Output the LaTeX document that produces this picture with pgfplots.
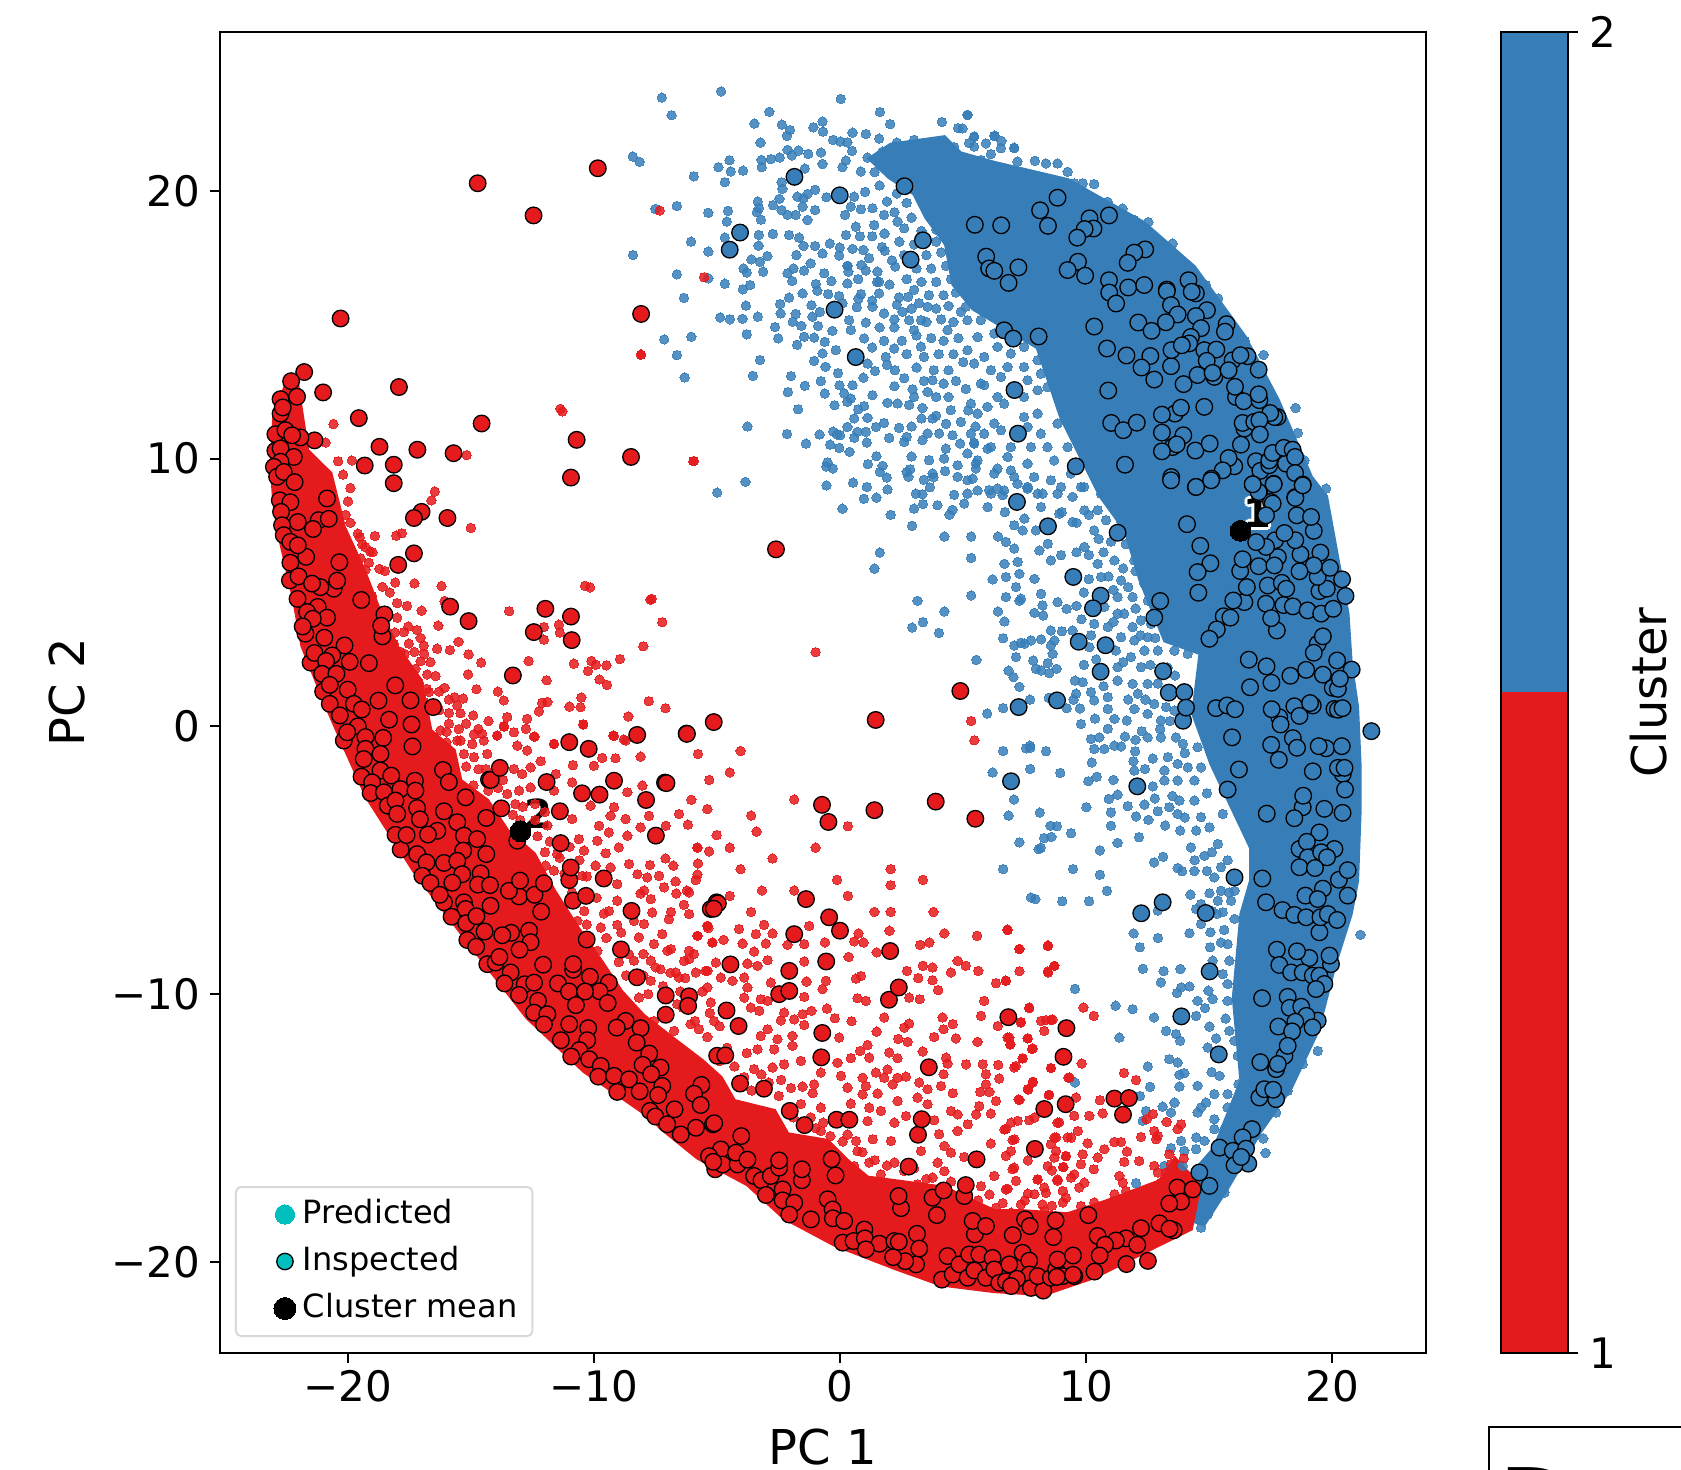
\documentclass[border=0pt]{standalone}
\usepackage{pgfplots}
\pgfplotsset{compat=1.18}
\usepackage{fontspec}
\setmainfont{DejaVu Sans}
\definecolor{cblue}{HTML}{377EB8}
\definecolor{cred}{HTML}{E41A1C}
\definecolor{ccyan}{rgb}{0,0.75,0.75}
\pgfplotsset{
  pred/.style={forget plot,only marks,mark=*,mark size=2.35pt,mark options={draw=#1,line width=0pt,fill=#1,opacity=0.85}},
  insp/.style={forget plot,only marks,mark=*,mark size=4.15pt,mark options={draw=black,line width=0.65pt,fill=#1}},
  lg/.style={only marks,mark=*,legend image code/.code={\path (0pt,0pt) (25pt,0pt);\draw[##1] plot coordinates {(16.5pt,0pt)};}}
}
\newcommand{\clabel}[3]{%
  \node[white,font=\fontsize{20}{20}\selectfont\bfseries,xshift=1.4pt] at (axis cs:#1,#2) {#3};
  \node[white,font=\fontsize{20}{20}\selectfont\bfseries,xshift=-1.4pt] at (axis cs:#1,#2) {#3};
  \node[white,font=\fontsize{20}{20}\selectfont\bfseries,yshift=1.4pt] at (axis cs:#1,#2) {#3};
  \node[white,font=\fontsize{20}{20}\selectfont\bfseries,yshift=-1.4pt] at (axis cs:#1,#2) {#3};
  \node[white,font=\fontsize{20}{20}\selectfont\bfseries,xshift=1pt,yshift=1pt] at (axis cs:#1,#2) {#3};
  \node[white,font=\fontsize{20}{20}\selectfont\bfseries,xshift=-1pt,yshift=1pt] at (axis cs:#1,#2) {#3};
  \node[white,font=\fontsize{20}{20}\selectfont\bfseries,xshift=1pt,yshift=-1pt] at (axis cs:#1,#2) {#3};
  \node[white,font=\fontsize{20}{20}\selectfont\bfseries,xshift=-1pt,yshift=-1pt] at (axis cs:#1,#2) {#3};
  \node[black,font=\fontsize{20}{20}\selectfont\bfseries] at (axis cs:#1,#2) {#3};
}
\begin{document}
\begin{tikzpicture}
\path[use as bounding box] (0pt,0pt) rectangle (840.5pt,735pt);
\begin{axis}[
  at={(110pt,58.5pt)},anchor=south west,scale only axis,width=603pt,height=660.5pt,
  xmin=-25.2,xmax=23.8,ymin=-23.4,ymax=25.93,
  xtick={-20,-10,0,10,20},xticklabels={−20,−10,0,10,20},
  ytick={-20,-10,0,10,20},yticklabels={−20,−10,0,10,20},
  tick pos=lower,tick align=outside,major tick length=5pt,
  tick style={black,line width=1pt},axis line style={line width=1pt},
  ticklabel style={font=\fontsize{21}{21}\selectfont},
  yticklabel style={xshift=-1.5pt},
  xlabel={PC 1},ylabel={PC 2},
  xlabel style={font=\fontsize{24}{24}\selectfont,at={(axis description cs:0.5,-0.0712)},anchor=center},
  ylabel style={font=\fontsize{24}{24}\selectfont,at={(axis description cs:-0.1265,0.5)},anchor=center},
  legend style={at={(axis description cs:0.0124,0.0121)},anchor=south west,
    draw=black!15,line width=1pt,rounded corners=2.5pt,inner xsep=7.5pt,inner ysep=6pt,
    font=\fontsize{16}{16}\selectfont,row sep=8pt,
    nodes={inner sep=0pt,text height=12pt,text depth=3.5pt},
    /tikz/every even column/.append style={column sep=21.5pt}},
  legend cell align=left,
]
% dense core, cluster 2
\addplot[forget plot,fill=cblue,draw=cblue,line width=2pt] coordinates {
(2.05,21.72)(4.23,22.0)(4.88,21.40)(6.27,21.04)(9.24,20.40)(12.33,18.80)(14.38,17.15)(16.43,14.55)(17.78,12.18)(19.13,9.30)(19.74,8.58)(20.61,4.21)(20.74,2.36)(21.0,0.72)(21.1,-1.40)(21.1,-3.25)(21.0,-5.77)(20.74,-7.01)(20.09,-8.90)(19.39,-11.38)(18.30,-13.51)(17.08,-15.11)(15.73,-17.23)(14.77,-18.60)(14.03,-18.36)(14.03,-16.95)(14.64,-16.35)(15.21,-15.75)(16.30,-13.23)(15.99,-10.14)(16.30,-7.01)(16.69,-5.77)(16.69,-4.53)(15.08,-1.40)(14.34,0.48)(14.64,2.73)(13.2,3.2)(12.2,5.45)(11.6,7.3)(10.59,8.58)(8.98,11.54)(8.02,14.15)(5.4,15.6)(4.6,16.5)(4.3,18.0)(3.5,19.0)(3.0,19.9)(2.0,20.5)(1.2,21.2)
} -- cycle;
% predicted, cluster 2
\addplot[pred=cblue] coordinates {
(-7.25,23.48)(-4.84,23.71)(0.02,23.43)(-6.85,22.82)(-2.88,22.95)(1.61,22.94)(5.17,22.84)(-3.49,22.51)(-2.37,22.47)(2.03,22.49)(4.13,22.57)(4.79,22.34)(-2.04,22.27)(-1.09,22.37)(-0.72,22.59)(-0.70,22.21)(0.50,22.17)(1.04,22.12)(-2.17,22.05)(-3.24,21.80)(-0.29,21.90)(0,21.84)(0.29,21.81)(1.58,21.95)(2.30,21.80)(3.0,21.90)(4.13,21.80)(5.44,22.03)(6.28,22.06)(7.07,21.61)(5.24,21.78)(4.63,21.63)(-8.43,21.28)(-8.15,21.08)(-2.14,21.53)(-1.70,21.50)(-1.30,21.38)(-0.78,21.43)(0.48,21.49)(1.11,21.24)(1.72,21.46)(-4.50,21.14)(-3.20,21.15)(-2.82,21.18)(-2.46,21.24)(-1.97,21.32)(-0.72,21.0)(0.23,21.13)(-4.95,20.88)(-4.45,20.72)(-3.95,20.75)(-3.19,20.88)(-1.44,20.83)(0.09,20.88)(0.84,20.72)(-5.95,20.54)(-4.69,20.32)(-2.38,20.32)(-2.35,20.07)(-1.02,20.04)(-1.33,19.88)(-1.74,19.78)(-1.49,19.72)(-2.47,19.70)(-0.56,19.76)(0.57,19.78)(1.01,19.96)(-2.73,19.46)(-3.35,19.60)(-3.30,19.35)(-3.39,19.20)(-2.38,19.28)(-2.14,19.10)(-1.81,19.10)(-1.53,19.41)(-1.02,19.28)(0.43,19.41)(0.84,19.31)(1.31,19.35)(-6.64,19.43)(-5.36,19.18)(-4.56,19.25)(-3.22,18.92)(-4.61,18.85)(-1.33,18.91)(1.38,18.72)(0.63,18.66)(0.23,18.35)(2.33,18.85)(1.78,19.10)(-2.74,18.39)(-3.31,18.35)(-2.08,18.35)(-1.67,18.25)(-4.69,18.25)(-6.06,18.10)(-5.36,17.73)(-3.32,17.95)(-1.49,17.94)(-1.02,17.94)(-0.42,18.03)(-0.02,17.88)(0.50,17.83)(0.94,17.79)(1.81,17.76)(-8.42,17.60)(-0.72,17.66)(-2.96,17.56)(-3.61,17.44)(-3.26,17.35)(-1.78,17.60)(-0.04,17.58)(1.17,17.48)(-1.20,17.29)(0.29,17.20)(0.86,17.23)(2.23,17.17)(-6.64,16.88)(-3.93,17.10)(-3.80,16.95)(-3.13,16.98)(-2.14,16.92)(-1.90,17.10)(-1.47,17.02)(-0.65,16.92)(0.33,16.98)(1.04,17.02)(1.51,16.98)(-4.69,16.53)(-3.96,16.32)(-3.66,16.48)(-1.95,16.63)(-0.99,16.52)(-0.36,16.63)(0.29,16.54)(0.73,16.70)(1.58,16.60)(-0.93,16.27)(-1.53,16.17)(-0.49,16.14)(1.58,16.17)(2.39,16.02)(2.76,16.04)(-6.35,16.0)(-2.08,16.01)(-0.04,16.07)(0.84,16.14)(0.74,15.98)(-3.83,15.71)(-2.44,15.77)(-1.17,15.73)(0.09,15.80)(1.31,15.67)(0.67,15.65)(3.55,15.67)(-4.88,15.27)(-4.48,15.20)(-3.97,15.22)(-3.35,15.30)(-2.42,15.42)(-1.81,15.40)(-1.13,15.30)(-0.83,15.48)(0.36,15.17)(1.78,15.42)(2.53,15.48)(3.28,15.17)(4.90,15.48)(-1.93,15.11)(-1.58,14.96)(-0.90,14.95)(-0.32,14.77)(1.04,15.08)(2.80,15.17)(-2.65,14.91)(-3.80,14.64)(-6.05,14.55)(-7.15,14.45)(-2.52,14.49)(-1.47,14.55)(-1.06,14.52)(-0.63,14.36)(0.43,14.80)(0.97,14.49)(1.78,14.40)(3.0,14.80)(4.36,14.80)(-6.64,13.86)(-1.75,14.25)(-0.18,14.05)(-0.72,13.93)(-3.26,13.68)(-1.06,13.65)(-0.60,13.43)(1.11,13.55)(1.85,13.80)(2.19,14.11)(3.28,14.18)(-6.32,13.03)(-3.55,13.09)(-2.0,13.08)(-0.09,13.19)(1.41,13.27)(2.22,13.30)(-0.79,12.89)(-0.03,12.74)(0.50,12.74)(0.94,13.02)(2.94,12.59)(3.75,12.93)(-1.44,12.72)(-2.13,12.48)(-0.63,12.43)(0.16,12.43)(0.43,12.24)(1.31,12.37)(3.55,12.49)(-0.23,11.99)(0.29,12.12)(1.92,12.08)(2.33,12.06)(0.97,11.96)(-1.71,11.84)(0.73,11.84)(3.34,11.89)(4.49,11.81)(4.90,11.37)(1.11,11.52)(0.57,11.50)(3.75,11.50)(1.78,11.33)(-3.77,11.20)(0.29,11.18)(1.45,11.18)(2.39,11.15)(-2.16,10.92)(-0.84,10.90)(-0.29,11.01)(0.70,11.0)(1.04,11.0)(3.55,10.94)(4.02,10.94)(1.99,10.77)(2.70,10.81)(0.57,10.78)(-1.39,10.56)(-0.41,10.52)(0,10.87)(1.08,10.60)(2.60,10.62)(3.34,10.69)(4.56,10.87)(5.44,10.59)(4.87,10.56)(-0.04,10.40)(0.38,10.25)(4.29,10.37)(1.47,10.09)(2.90,10.08)(5.17,10.19)(3.61,9.94)(4.22,10.0)(4.77,9.75)(5.58,9.94)(-0.52,9.86)(-0.30,9.63)(1.12,9.79)(1.72,9.73)(2.84,9.60)(3.75,9.44)(4.26,9.53)(5.51,9.63)(6.39,9.63)(-3.85,9.13)(2.77,9.32)(3.40,9.21)(1.89,9.29)(4.77,9.32)(5.38,9.25)(-5.0,8.73)(-0.56,9.0)(1.08,8.94)(1.92,8.85)(3.64,8.93)(3.07,8.69)(3.34,8.67)(4.63,8.65)(5.17,8.69)(6.05,8.82)(6.39,8.88)(1.47,8.54)(5.04,8.32)(3.95,8.26)(3.0,8.13)(0.09,8.13)(4.56,8.09)(5.99,8.19)(7.61,8.88)(7.07,9.32)(6.80,10.06)(5.99,10.37)(-7.51,19.32)(-5.36,16.73)
(5.17,16.79)(5.04,16.41)(5.44,16.29)(5.10,15.67)(5.58,15.92)(5.98,15.67)(5.17,15.17)(5.71,15.17)(6.26,15.42)(6.66,15.67)(7.07,16.04)(7.61,16.41)(7.47,15.42)(7.75,14.92)(6.26,14.67)(5.58,14.54)(5.17,14.05)(5.85,13.80)(6.39,14.17)(6.93,13.92)(7.47,14.17)(5.44,13.55)(6.12,13.30)(6.80,13.42)(7.47,13.42)(8.02,13.67)(5.85,12.74)(6.53,13.05)(7.61,12.93)(8.15,13.17)(8.42,12.67)(5.71,12.80)(7.47,12.30)(8.02,12.55)(6.39,12.30)(5.31,12.05)(5.98,11.93)(6.66,12.05)(5.58,11.68)(6.26,11.31)(7.47,11.55)(8.02,11.68)(5.31,10.93)(5.85,10.93)(6.53,11.06)(7.61,11.18)(8.15,10.93)(8.83,11.31)(9.64,10.93)(5.44,10.56)(6.12,10.43)(6.93,10.43)(7.75,10.43)(8.42,10.43)(9.24,10.43)(10.32,10.93)(5.51,9.81)(6.26,9.44)(6.93,9.56)(7.61,9.81)(8.69,9.93)(10.05,10.18)(10.59,10.43)(5.17,9.19)(5.58,8.81)(6.12,8.69)(6.66,8.81)(7.20,9.06)(7.88,9.31)(8.56,9.19)(8.97,8.94)(8.02,8.69)(10.59,9.31)(10.73,9.69)(9.91,8.94)(11.0,8.81)(9.37,9.44)
(5.17,22.83)(5.44,22.02)(6.26,22.05)(6.55,21.86)(5.92,21.77)(5.44,21.65)(7.07,21.59)(6.53,21.59)(7.91,21.12)(8.36,21.02)(8.83,21.02)(9.24,20.71)(6.12,21.37)(5.71,21.15)(7.20,21.09)(10.32,20.25)(9.85,20.28)(9.51,20.28)(11.47,19.34)(12.52,18.83)(13.50,18.03)(14.86,16.48)(15.36,15.98)(16.44,14.40)(17.20,13.87)(18.50,11.89)(18.59,10.96)(19.74,8.88)(18.86,9.93)(17.70,12.05)(11.95,18.91)(10.86,19.59)(6.93,20.65)(4.97,22.33)
(6.69,8.0)(6.6,8.63)(7.61,8.94)(8.22,8.69)(8.16,8.19)(8.90,7.94)(9.44,7.63)(7.48,7.76)(7.07,7.51)(7.41,7.32)(6.73,6.89)(7.07,6.64)(7.95,7.32)(8.43,6.82)(8.09,6.57)(8.97,6.39)(7.21,6.14)(6.67,6.07)(8.56,6.20)(6.73,5.58)(7.28,5.70)(7.89,5.51)(7.14,5.20)(6.73,4.83)(7.34,4.77)(8.16,4.95)(7.89,4.24)(8.25,4.14)(8.22,4.52)(8.83,4.64)(9.2,4.39)(6.67,3.92)(8.56,3.58)(9.01,3.55)(9.44,3.58)(8.16,3.25)(7.34,3.12)(7.07,3.02)(7.75,3.21)(8.70,3.21)(8.56,3.02)(8.63,2.71)(7.14,2.59)(7.84,2.46)(8.43,2.36)(7.95,2.15)(8.16,2.09)(8.49,1.99)(8.79,2.15)(10.19,3.40)(10.12,2.96)(7.04,1.84)(9.54,1.71)(9.85,1.65)(9.58,1.22)(10.19,1.28)(10.32,0.97)(10.87,1.09)(7.71,1.0)(8.47,1.07)(9.48,1.0)(9.2,0.68)(9.74,0.67)(10.87,0.65)(11.14,0.28)(11.64,0.22)(10.35,0.29)(9.78,0.09)(10.87,-0.09)(10.19,-0.47)(10.53,-0.41)(11.57,-0.38)(12.25,-0.18)(11.95,0.65)(11.14,-0.72)(11.41,-0.75)(10.32,-0.84)(10.73,-0.84)(8.36,-0.93)(7.55,-0.82)(7.72,-0.80)(11.98,-0.93)(10.22,-1.35)(7.72,-1.59)(8.94,-1.74)(11.91,-1.30)(12.38,-1.59)(11.95,-1.65)(10.42,-1.88)(10.08,-2.05)(11.10,-2.0)(12.70,-2.24)(11.27,-2.55)(10.91,-2.71)(12.78,-2.69)(12.36,-2.92)(10.0,-3.02)(11.68,-2.98)(12.90,-3.17)(11.0,-3.21)(8.11,-3.22)(12.02,-3.36)(12.52,-3.49)(11.0,-3.71)(8.54,-3.71)(9.38,-3.99)(8.29,-4.17)(11.27,-4.35)(12.14,-4.14)(8.06,-4.59)(10.55,-4.63)(13.12,-4.87)(12.75,-5.08)(13.71,-5.29)(13.89,-5.41)(14.39,-5.40)(10.55,-5.54)(10.84,-6.14)(7.75,-6.39)(13.81,-3.89)(14.46,-3.89)(14.25,-4.52)(14.80,-4.83)(15.34,-4.39)(13.71,-3.27)(13.37,-3.02)(14.39,-2.77)(13.78,-2.77)(14.66,-3.39)(15.0,-3.77)(15.54,-3.27)(15.74,-5.0)(15.47,-5.26)(15.20,-5.64)(15.47,-6.14)(16.02,-6.14)
(11.27,4.83)(10.6,5.58)(10.46,6.07)(9.92,6.70)(10.32,7.32)(9.92,8.07)(10.46,8.07)(10.6,8.69)(8.83,8.69)(9.44,8.57)(9.78,8.94)(11.14,8.19)(12.22,6.57)(11.14,6.20)(11.95,6.20)(11.41,5.45)(12.36,5.33)(11.88,4.83)(11.27,4.21)(10.73,4.46)(10.32,3.83)(10.87,3.71)(11.54,4.21)(11.88,3.71)(12.22,3.96)(11.41,3.33)(11.95,3.21)(12.49,3.33)(11.20,2.83)(11.81,2.59)(12.36,2.83)(12.90,2.83)(11.27,2.21)(12.22,2.21)(11.27,1.71)(11.88,1.59)(12.49,1.59)(12.09,1.22)(12.76,0.84)(13.24,0.72)(13.03,0.22)(12.49,0.47)(13.58,0.59)(12.49,-0.41)(13.03,-0.41)(13.64,-0.41)(13.92,-0.65)(13.31,-1.15)(13.71,-1.40)(13.17,-1.65)(14.12,-1.53)(13.17,-2.02)(14.39,-2.02)(13.71,-2.02)(14.66,-1.53)(14.52,-0.78)(14.93,0.22)(13.58,2.83)(14.12,3.71)(13.17,3.71)(12.63,3.83)(14.12,2.71)
(14.23,-6.28)(15.0,-6.23)(15.34,-6.51)(14.66,-6.63)(14.46,-6.82)(15.54,-6.94)(12.90,-6.88)(14.66,-7.38)(16.02,-7.19)(15.88,-6.51)(11.92,-7.73)(12.91,-7.90)(14.19,-7.72)(15.04,-7.69)(15.47,-8.07)(21.14,-7.78)(12.17,-8.25)(15.03,-8.25)(15.74,-8.13)(15.81,-8.75)(12.30,-9.05)(13.14,-9.14)(13.82,-9.06)(15.13,-8.75)(15.54,-9.25)(13.03,-9.56)(9.54,-9.80)(13.85,-9.75)(14.19,-9.71)(13.68,-9.96)(14.96,-9.87)(15.74,-9.62)(11.19,-10.43)(11.88,-10.56)(12.75,-10.87)(14.52,-10.25)(15.13,-10.18)(14.82,-10.52)(14.46,-10.81)(15.66,-10.91)(15.74,-10.25)(15.0,-11.21)(13.24,-11.37)(15.81,-11.37)(13.64,-11.49)(13.81,-11.74)(11.34,-11.62)(15.27,-11.65)(14.93,-11.99)(16.02,-11.74)(16.15,-12.30)(19.40,-12.12)(13.37,-12.43)(13.71,-12.55)(12.5,-12.70)(15.09,-12.91)(15.41,-13.05)(13.98,-12.95)(13.78,-13.01)(9.54,-13.30)(13.78,-13.45)(14.52,-13.42)(12.59,-13.46)(15.20,-13.73)(15.74,-13.73)(12.18,-13.80)(16.18,-13.36)(14.86,-14.05)(13.58,-14.05)(13.10,-14.2)(14.66,-14.23)(12.42,-14.36)(13.44,-14.42)(14.52,-14.42)(12.29,-14.73)(15.20,-14.67)(15.74,-14.23)(15.20,-15.04)(15.61,-15.04)(14.46,-15.35)(13.85,-15.48)(14.80,-15.48)(17.19,-15.39)(13.98,-15.85)(13.44,-15.75)(17.28,-15.93)(14.46,-15.79)(13.17,-16.41)(13.92,-16.41)(12.02,-17.06)(15.2,-17.6)(15.61,-17.41)(14.93,-18.22)(14.66,-18.72)(17.71,-14.42)(18.18,-13.61)(18.79,-12.61)
(3.14,4.69)(3.36,3.89)(5.32,6.29)(4.23,7.09)(2.92,7.49)(1.61,6.49)(1.39,5.89)(4.44,7.90)(3.36,8.30)(5.32,7.09)(6.41,7.09)(7.06,8.30)(6.19,5.49)(7.28,4.69)(6.41,4.29)(5.32,4.89)(4.23,4.29)(7.49,3.09)(6.62,3.29)(6.84,2.08)(6.62,0.68)(5.53,2.48)(4.01,3.49)(2.92,3.69)(7.28,1.48)(7.71,-0.72)(6.62,-0.92)(5.97,0.48)(6.19,-1.72)(7.06,-2.73)(6.84,-3.33)(8.15,-4.53)(8.80,-3.73)(9.46,-5.33)(10.11,-6.53)(7.93,-6.45)(6.62,-5.33)(7.28,-4.33)(9.02,-6.53)(8.58,-4.13)(-0.57,9.70)(0.52,9.10)(1.61,9.50)(2.05,7.90)(0.96,8.50)(2.70,9.50)(3.79,9.30)(-0.13,10.90)
(2.2,21.4)(2.9,21.5)(3.6,21.3)(4.2,21.4)(1.7,21.1)(2.5,21.0)(3.2,21.05)(3.9,20.9)(4.5,21.0)(1.4,20.7)(2.1,20.6)(2.9,20.65)(3.5,20.45)(4.1,20.5)(1.6,20.2)(2.3,19.9)(3.2,20.1)(3.8,19.95)(1.9,19.6)(2.7,19.55)(3.4,19.55)(4.0,19.4)(2.2,19.2)(2.9,19.0)(3.7,19.05)(4.3,18.95)(2.6,18.6)(3.9,18.55)(3.3,18.5)(1.8,18.4)(2.4,18.1)(3.0,18.0)(3.9,18.1)(4.4,18.3)(1.7,17.9)(2.6,17.6)(3.5,17.6)(4.1,17.7)(2.1,17.4)(3.1,17.1)(3.7,17.1)(4.3,17.2)(2.7,16.7)(3.3,16.6)(3.9,16.6)(4.5,16.7)(2.0,16.5)(3.0,16.3)(3.6,16.1)(4.2,16.1)(4.7,16.2)(3.2,15.8)(3.9,15.6)(4.4,15.7)(2.3,15.75)(2.9,15.6)(1.3,15.9)(4.1,15.2)(4.6,15.1)(3.5,15.1)(2.2,14.9)(1.6,14.9)(3.1,14.6)(3.7,14.5)(4.2,14.4)(4.8,14.5)(2.5,14.4)(1.3,14.15)(2.7,13.9)(3.4,13.8)(4.0,13.9)(4.6,13.9)(5.0,13.6)(1.9,13.5)(3.1,13.4)(3.8,13.3)(4.4,13.3)(2.6,13.0)(3.4,12.9)(4.2,12.8)(4.7,12.9)(5.1,12.6)(2.2,12.7)(3.0,12.3)(3.9,12.3)(4.4,12.3)(5.2,11.8)(3.3,11.5)(4.3,11.3)(5.5,11.2)(2.9,11.2)(3.9,11.6)(0.2,19.1)(0.8,18.3)(1.3,18.3)(0.3,17.2)(1.5,16.6)(2.2,15.2)(2.8,12.0)
(9.0,8.0)(9.6,7.6)(10.1,7.9)(10.8,7.7)(11.4,7.7)(11.9,7.6)(10.5,7.0)(11.0,6.9)(11.6,6.8)(12.2,7.0)(9.6,6.5)(10.1,6.4)(10.7,6.5)(12.0,5.8)(11.5,5.9)(10.9,5.6)(10.1,5.5)(9.9,5.0)(11.1,5.1)(11.7,5.2)(12.5,4.7)(12.0,4.4)(9.6,4.5)(9.8,4.0)(11.1,3.9)(12.8,3.3)(12.2,3.4)(10.4,2.5)(9.9,2.3)(11.5,2.4)(12.6,2.3)(13.3,2.2)(10.7,1.5)(12.9,1.6)(13.6,1.9)(11.7,1.0)(12.4,1.0)(13.0,-0.1)(13.4,0.2)(12.0,-0.5)(14.0,-1.0)(12.7,-1.2)(13.5,-2.6)(14.9,-2.5)(14.0,-3.4)(13.2,-3.7)(14.4,-5.0)(15.1,-4.7)(14.9,-5.4)(15.1,-6.9)(15.6,-7.6)(15.3,-7.0)(15.8,-6.2)
};
% dense core, cluster 1
\addplot[forget plot,fill=cred,draw=cred,line width=2pt] coordinates {
(-22.5,12.8)(-23.0,11.5)(-23.1,9.8)(-23.0,8.4)(-22.8,7.2)(-22.5,6.0)(-22.2,4.8)(-21.85,3.0)(-20.85,0.72)(-20.2,-0.65)(-19.22,-2.65)(-17.32,-5.39)(-15.15,-8.0)(-12.72,-10.87)(-10.41,-12.87)(-7.7,-14.6)(-7.29,-14.99)(-5.80,-16.1)(-3.77,-17.1)(-2.28,-18.35)(-0.24,-19.35)(2.2,-20.22)(4.09,-20.84)(6.26,-21.09)(8.29,-21.2)(10.33,-20.56)(12.5,-19.56)(14.25,-18.76)(14.6,-17.15)(13.6,-16.15)(13.03,-16.97)(10.87,-17.72)(9.24,-18.22)(7.34,-18.1)(6.26,-18.1)(4.23,-17.23)(2.2,-16.98)(1.11,-16.85)(0.30,-16.23)(-0.52,-15.48)(-2.14,-15.23)(-2.68,-14.36)(-4.31,-13.99)(-4.85,-13.12)(-5.6,-12.5)(-6.6,-11.8)(-8.0,-10.8)(-8.9,-9.9)(-9.73,-8.75)(-10.68,-7.51)(-11.63,-6.14)(-12.44,-4.77)(-13.53,-3.89)(-14.34,-2.77)(-15.43,-2.03)(-15.7,-0.90)(-16.65,-0.16)(-17.05,1.72)(-18.0,2.96)(-18.68,4.21)(-19.36,5.83)(-20.17,7.45)(-20.71,9.44)(-21.66,10.31)(-22.07,12.8)
} -- cycle;
% predicted, cluster 1
\addplot[pred=cred] coordinates {
(-7.33,19.26)(-5.53,16.77)(-8.09,13.88)(-5.95,9.91)
(-8.10,13.88)(-11.29,11.76)(-20.59,11.29)(-19.84,9.93)(-20.91,10.60)(-15.18,10.13)(-16.47,8.77)(-16.61,8.44)(-15.01,7.41)(-18.91,7.11)(-19.52,7.06)(-19.42,6.80)(-18.04,7.12)(-17.81,7.21)(-19.10,6.53)(-19.76,6.31)(-19.49,6.28)(-19.15,6.11)(-19.76,5.95)(-19.29,5.85)(-18.72,5.88)(-18.50,5.80)(-18.08,5.37)(-17.30,5.34)(-18.60,5.21)(-16.20,5.24)(-10.16,5.19)(-7.66,4.76)(-16.08,4.68)(-17.01,4.32)(-13.45,4.30)(-19.02,4.87)(-16.33,3.76)(-18.0,4.06)(-17.55,3.73)(-17.73,3.52)(-12.04,3.71)(-11.43,3.80)(-11.39,3.50)(-12.04,3.24)(-15.51,3.16)(-17.05,3.30)(-17.53,3.09)(-18.14,3.09)(-16.92,3.02)(-16.38,2.90)(-15.86,2.85)(-8.0,2.99)(-15.10,2.69)(-17.87,2.78)(-17.30,2.78)(-14.59,2.38)(-12.66,2.44)(-10.82,2.34)(-9.93,2.30)(-8.95,2.51)(-10.25,2.07)(-17.05,2.43)(-16.65,2.40)(-17.64,2.28)(-17.26,2.15)(-15.12,1.94)(-11.93,1.72)(-9.78,1.75)(-9.48,1.55)(-16.78,1.94)(-16.44,1.88)(-17.12,1.63)(-16.08,1.44)(-14.78,1.39)(-13.91,1.30)(-16.71,1.28)(-15.67,1.09)(-15.32,1.04)(-13.67,0.97)(-12.11,0.88)(-11.90,0.91)(-10.52,1.08)(-7.78,0.94)(-11.0,0.74)(-10.55,0.72)(-15.56,0.78)(-12.24,0.56)(-15.43,0.49)(-14.91,0.41)(-13.53,0.35)(-12.72,0.28)(-14.29,0.20)(-8.61,0.37)(-10.44,0.08)(-13.67,0.01)(-12.77,-0.09)(-15.90,0.10)(-13.26,-0.22)(-13.94,-0.34)(-12.42,-0.38)(-9.19,-0.36)(-8.79,-0.49)(-11.63,-0.65)(-14.88,-0.30)(-14.48,-0.53)(-15.43,-0.53)(-16.24,-0.15)(-16.38,-0.53)
(-10.44,0.07)(-9.22,-0.34)(-8.71,-0.53)(-8.11,-1.13)(-5.78,-1.03)(-5.32,-2.0)(-9.13,-1.19)(-9.67,-1.18)(-10.01,-1.47)(-10.86,-1.45)(-11.63,-0.66)(-12.17,-1.30)(-12.44,-0.38)(-13.12,-0.72)(-13.94,-0.34)(-12.72,-0.90)(-14.55,-0.28)(-14.95,-0.66)(-13.66,-0.01)(-15.56,-0.53)(-15.29,-1.03)(-14.88,-1.15)(-14.34,-1.03)(-13.26,-1.59)(-12.92,-1.78)(-12.58,-1.53)(-11.56,-1.78)(-10.89,-2.09)(-11.63,-2.40)(-12.58,-2.28)(-13.05,-2.40)(-13.53,-2.52)(-10.14,-2.96)(-9.19,-3.02)(-10.89,-3.46)(-9.80,-3.71)(-9.33,-3.34)(-8.72,-3.46)(-8.04,-2.21)(-8.65,-2.46)(-6.05,-2.74)(-5.40,-3.09)(-6.55,-3.27)(-7.09,-3.71)(-7.77,-3.34)(-8.11,-3.77)(-6.19,-3.67)(-5.02,-4.06)(-5.81,-4.52)(-5.33,-4.67)(-5.78,-5.12)(-6.78,-5.20)(-7.73,-5.18)(-8.58,-5.14)(-8.24,-5.52)(-7.36,-5.58)(-7.84,-5.64)(-8.65,-4.08)(-9.40,-3.96)(-9.0,-4.52)(-9.87,-4.27)(-9.53,-4.74)(-10.41,-4.64)(-10.62,-4.21)(-9.94,-5.2)(-9.33,-5.27)(-11.5,-4.77)(-11.97,-5.2)(-11.63,-5.39)(-10.48,-5.58)(-9.06,-5.89)(-8.11,-6.24)(-7.16,-6.01)(-6.69,-5.79)(-6.14,-6.2)(-5.87,-5.74)(-7.70,-6.45)(-6.66,-6.24)(-6.35,-6.66)(-7.64,-6.95)(-6.96,-7.2)(-6.14,-7.01)(-5.40,-7.45)(-9.06,-6.51)(-9.60,-6.99)(-9.06,-7.41)(-9.73,-7.51)(-7.97,-7.38)(-8.38,-7.26)(-7.23,-7.76)(-5.80,-7.82)(-5.20,-8.07)(-7.02,-8.38)(-6.14,-8.69)(-7.57,-8.13)(-8.18,-7.88)(-5.47,-9.13)(-7.30,-9.07)(-6.55,-9.38)(-5.40,-9.75)(-7.70,-9.50)(-8.18,-10.13)(-5.94,-8.50)(-9.87,-8.38)(-10.14,-8.75)(-8.38,-8.75)(-7.70,-8.75)(-10.68,-7.26)(-11.23,-6.89)(-11.77,-6.26)(-11.50,-7.51)(-6.62,-10.37)(-5.26,-10.31)(-7.57,-11.0)(-6.08,-11.12)(-6.75,-11.37)(-5.74,-11.31)(-5.13,-11.0)(-8.38,-10.69)(-8.92,-10.25)
(-5.39,-7.45)(-4.11,-7.57)(-3.43,-7.76)(-3.09,-7.41)(-1.26,-7.45)(-5.80,-7.82)(-4.74,-7.97)(-5.19,-8.07)(-3.97,-8.11)(-3.02,-8.11)(-3.50,-8.41)(-2.14,-8.16)(-1.46,-8.13)(-0.62,-8.07)(0.57,-8.03)(0.95,-8.07)(2.0,-7.63)(3.25,-8.16)(3.62,-8.07)(5.56,-7.82)(6.80,-7.61)(7.28,-8.32)(8.43,-8.19)(1.48,-8.44)(0.34,-8.61)(-1.46,-8.78)(-2.95,-8.73)(-3.77,-8.86)(-5.05,-8.82)(-6.14,-8.38)(-6.88,-8.32)(-6.34,-8.76)(3.75,-9.0)(4.77,-8.76)(2.71,-9.13)(4.50,-9.19)(5.61,-9.13)(8.43,-9.15)(8.70,-8.94)(0.84,-9.32)(0.64,-9.42)(3.17,-9.40)(3.75,-9.48)(6.33,-9.59)(6.73,-9.50)(-1.37,-9.53)(-0.58,-9.50)(-0.72,-9.81)(-5.39,-9.13)(-4.38,-9.50)(-3.90,-9.38)(-2.82,-9.57)(-3.36,-8.94)(-4.85,-9.38)(-5.87,-9.19)(-6.68,-9.19)(3.98,-9.85)(2.80,-10.13)(3.23,-10.19)(5.85,-10.25)(0.70,-10.15)(1.04,-10.25)(-1.46,-10.10)(-3.77,-9.75)(-3.23,-10.19)(-2.95,-10.25)(-3.90,-10.13)(-3.63,-10.5)(-3.29,-10.62)(-2.28,-10.69)(-1.87,-10.94)(-1.53,-10.75)(-1.17,-10.62)(-0.54,-10.54)(-0.22,-10.90)(0.46,-11.01)(1.79,-10.87)(-2.41,-10.98)(-1.46,-11.15)(7.68,-10.52)(5.72,-10.81)(4.16,-10.87)(4.57,-11.12)(6.40,-11.19)(7.34,-11.04)(8.36,-10.97)(8.63,-10.95)(2.80,-11.10)(2.60,-11.25)(4.20,-11.31)(1.48,-11.40)(3.82,-11.60)(4.70,-11.65)(6.87,-11.62)(7.62,-11.65)(-0.04,-11.62)(2.36,-11.67)(2.74,-11.78)(5.58,-11.78)(6.91,-11.88)(7.79,-12.05)(-2.95,-11.31)(-2.55,-11.68)(-1.94,-11.56)(-3.23,-11.56)(1.11,-11.90)(3.35,-12.14)(1.99,-12.18)(0.81,-12.12)(0.43,-12.39)(1.18,-12.37)(2.33,-12.39)(4.30,-12.37)(7.41,-12.39)(5.11,-12.62)(5.79,-12.62)(6.42,-12.64)(7.14,-12.68)(4.36,-12.59)(8.56,-12.76)(-2.68,-12.06)(-3.36,-12.06)(-1.94,-11.93)(-1.60,-12.49)(-2.28,-12.62)(-2.75,-12.74)(-0.11,-12.56)(1.92,-12.81)(1.45,-12.93)(-0.79,-12.93)(5.92,-12.99)(4.20,-12.99)(6.46,-13.15)(9.27,-13.12)(2.67,-13.08)(2.33,-13.12)(1.79,-13.12)(0.91,-13.12)(0.03,-13.05)(3.21,-13.30)(7.82,-13.27)(4.09,-13.43)(5.92,-13.37)(7.62,-13.55)(1.04,-13.43)(2.13,-13.37)(-1.06,-13.37)(-1.53,-13.45)(0.30,-13.49)(3.55,-13.55)(-1.12,-13.70)(4.57,-13.70)(5.69,-13.65)(6.06,-13.65)(1.52,-13.71)(0.91,-13.74)(8.47,-13.76)(3.14,-13.86)(7.28,-13.95)(6.33,-13.99)(4.50,-14.36)(5.65,-14.18)(3.55,-14.11)(2.33,-13.99)(1.18,-14.24)(0.43,-14.09)(-0.79,-14.24)(1.65,-14.36)(2.67,-14.55)(4.77,-14.49)(5.52,-14.49)(6.12,-14.46)(7.68,-14.71)(6.94,-14.80)(8.83,-14.80)(5.18,-14.86)(3.82,-14.71)(2.20,-14.80)(1.11,-14.74)(6.67,-15.05)(4.77,-15.11)(4.02,-15.23)(7.08,-15.42)(6.12,-15.58)(8.70,-15.36)(9.38,-15.36)(4.23,-15.67)(1.32,-15.42)(2.06,-15.48)(0.70,-15.86)(0.30,-15.24)(0.64,-15.48)(-0.79,-15.11)(6.94,-15.86)(7.62,-16.21)(8.77,-15.86)(9.17,-16.05)(8.43,-16.42)(9.07,-16.46)(5.04,-16.08)(3.96,-16.29)(4.50,-15.92)(3.28,-15.86)(2.20,-16.29)(7.0,-16.54)(6.26,-16.79)(4.23,-16.61)(3.75,-16.85)(1.18,-16.29)(0.57,-16.42)(8.02,-16.92)(8.83,-16.92)(9.51,-16.73)(1.65,-16.73)(0.98,-16.98)(3.14,-17.10)(6.80,-17.27)(5.72,-17.17)(6.06,-17.48)(7.62,-17.45)(8.36,-17.42)(9.17,-17.60)(4.50,-17.98)(6.33,-17.98)(6.94,-18.16)(8.29,-18.10)
(6.80,-7.59)(7.28,-8.31)(8.45,-8.19)(8.70,-8.94)(8.45,-9.19)(6.73,-9.49)(7.68,-10.5)(9.88,-10.5)(10.30,-10.81)(8.56,-10.96)(8.16,-11.0)(7.34,-11.06)(8.29,-11.37)(7.61,-11.65)(6.80,-11.62)(6.91,-11.87)(7.82,-12.03)(9.81,-12.59)(7.41,-12.40)(7.07,-12.74)(8.56,-12.76)(11.53,-12.94)(12.02,-13.21)(9.31,-13.11)(7.82,-13.30)(7.64,-13.56)(8.49,-13.76)(10.55,-13.96)(7.25,-13.93)(9.58,-13.86)(12.70,-14.48)(10.66,-14.45)(10.12,-14.54)(12.45,-14.67)(13.26,-14.77)(8.90,-14.79)(13.85,-14.86)(9.51,-14.54)(7.21,-14.73)(7.89,-14.61)(6.73,-15.04)(9.65,-15.11)(12.22,-15.33)(12.76,-15.11)(12.83,-15.42)(12.90,-15.29)(13.71,-15.04)(7.0,-15.45)(9.24,-15.35)(8.77,-15.35)(10.05,-15.57)(11.14,-15.52)(11.41,-15.52)(8.56,-15.60)(10.73,-15.79)(11.65,-15.88)(9.85,-15.98)(13.37,-15.98)(13.96,-16.13)(8.70,-16.10)(9.17,-16.04)(6.73,-16.04)(10.46,-16.10)(11.54,-16.26)(12.15,-16.23)(13.44,-16.35)(7.07,-16.48)(9.06,-16.45)(12.76,-16.41)(9.78,-16.35)(10.30,-16.54)(8.60,-16.58)(13.24,-16.66)(13.58,-16.73)(11.34,-16.79)(12.90,-16.66)(8.02,-16.91)(8.83,-16.97)(9.38,-16.85)(9.92,-17.04)(11.48,-17.04)(13.03,-17.04)(7.14,-16.97)(6.73,-17.29)(8.29,-17.22)(9.04,-17.35)(9.71,-17.22)(7.89,-17.47)(11.14,-17.47)(11.61,-17.35)(12.36,-17.60)(11.14,-17.78)(10.32,-17.78)(7.34,-17.85)(9.78,-17.91)(9.04,-17.78)(11.95,-17.91)(12.63,-17.91)(8.22,-17.85)
(-1.0,2.77)(-5.97,9.9)(-11.37,11.86)(-10.37,5.25)(-7.71,4.73)(-7.23,3.89)(-10.11,2.44)(-9.5,2.28)(-7.1,0.68)(-4.05,-0.92)(-4.49,-1.72)(-3.62,-3.33)(-1.87,-2.73)(-3.40,-3.93)(-4.49,-4.53)(-4.05,-5.33)(-2.75,-4.93)(-1.0,-4.53)(0.31,-3.73)(2.05,-5.33)(-0.13,-5.73)(-1.87,-6.13)(-3.62,-6.93)(2.05,-5.93)(3.36,-5.73)(5.32,0.2)(5.45,-0.52)(-7.97,-6.13)(-6.23,-6.13)(-7.1,-4.93)(-5.8,-4.53)(-5.8,-5.53)(-4.49,-6.33)(-6.88,-6.93)(-5.36,-7.53)(-3.18,-6.13)(-2.75,-7.73)(0.74,-7.73)(2.05,-6.93)(0.31,-6.33)(1.39,-6.93)(3.36,-8.94)(4.23,-7.73)(5.10,-8.94)(7.28,-9.14)(3.79,-6.93)
(-15.9,0.5)(-15.2,0.1)(-14.7,-0.1)(-16.0,-0.2)(-15.2,-1.5)(-14.7,-1.6)(-14.9,-2.2)(-14.4,-1.6)(-13.9,-2.3)(-14.3,-2.4)(-13.7,-2.0)(-13.2,-2.9)(-13.3,-3.3)(-12.9,-3.0)(-12.4,-2.9)(-12.0,-3.2)(-13.0,-3.5)(-12.4,-3.5)(-11.9,-3.7)(-12.3,-4.1)(-11.8,-4.3)(-12.0,-4.7)(-11.4,-4.9)(-11.0,-4.5)(-11.2,-5.5)(-10.6,-5.0)(-10.9,-6.2)(-10.3,-5.6)(-10.4,-6.9)(-9.9,-6.4)(-10.3,-7.4)(-9.4,-6.9)(-9.5,-7.9)(-8.9,-7.7)(-9.0,-8.8)(-8.6,-8.5)(-8.7,-9.3)(-8.0,-8.5)(-8.0,-9.3)(-7.5,-9.0)(-7.8,-10.0)(-7.2,-9.7)(-6.9,-9.2)(-6.5,-9.9)(-6.3,-9.4)(-6.4,-10.5)(-6.0,-10.1)(-5.6,-9.9)(-5.9,-11.0)(-5.3,-10.7)(-5.4,-11.6)(-4.9,-11.2)(-4.6,-12.0)(-4.9,-12.5)(-4.3,-12.7)(-3.8,-12.2)(-3.9,-13.1)(-3.5,-12.8)(-3.2,-13.0)(-3.6,-13.6)(-2.9,-13.3)(-2.4,-13.2)(-2.5,-13.8)(-2.0,-13.5)(-1.6,-14.1)(-1.9,-14.6)(-1.2,-14.6)(-0.7,-14.8)(-1.0,-15.0)(-0.4,-15.3)(0.1,-15.5)(0.9,-15.9)(1.4,-16.2)(1.9,-16.4)(2.6,-16.6)(3.0,-16.5)(3.5,-16.9)(4.5,-17.0)(5.0,-17.7)(5.6,-17.7)(6.6,-17.8)(7.5,-17.7)(8.6,-17.9)
(-18.3,5.0)(-18.0,4.6)(-17.6,4.5)(-18.1,3.5)(-17.7,2.7)(-17.2,3.6)(-17.9,2.4)(-16.9,2.7)(-16.8,1.4)(-16.3,1.3)(-16.9,0.9)(-16.3,0.6)(-15.9,1.0)(-16.0,-0.6)(-15.5,-0.1)(-19.0,6.5)(-19.3,6.7)(-19.6,7.2)(-20.0,8.4)(-19.9,8.9)(-20.2,9.4)(-20.4,9.9)(-19.9,7.6)(-20.1,7.9)
};
% inspected, cluster 2
\addplot[insp=cblue] coordinates {
(8.83,19.74)(8.12,19.27)(8.44,18.69)(5.47,18.73)(6.54,18.71)(10.13,18.97)(10.29,18.59)(9.93,18.57)(9.63,18.25)(10.92,19.08)(12.39,17.81)(11.95,17.69)(11.68,17.31)(5.93,17.54)(6.05,17.10)(6.26,17.01)(7.24,17.14)(6.84,16.56)(9.66,17.35)(9.24,17.04)(9.95,16.83)(10.92,16.66)(10.93,16.20)(11.21,15.79)(11.70,16.39)(12.35,16.48)(13.27,16.31)(13.27,16.25)(14.15,16.66)(14.45,16.17)(14.28,16.23)(13.44,15.73)(13.71,15.38)(14.90,15.54)(14.45,15.32)(13.23,15.09)(12.11,15.08)(12.65,14.77)(14.66,14.87)(15.70,15.02)(15.63,14.74)(10.32,14.93)(6.66,14.79)(7.03,14.48)(8.06,14.56)(10.84,14.11)(11.63,13.85)(12.60,13.83)(12.24,13.40)(13.44,13.45)(13.46,14.05)(14.25,14.54)(14.18,14.30)(13.88,14.23)(14.79,14.05)(15.28,14.07)(14.89,13.65)(15.94,13.67)(16.55,13.82)(16.26,13.86)(17.0,13.32)(14.52,13.12)(15.20,13.05)(15.13,13.20)(15.78,13.30)(13.95,12.78)(12.76,12.95)(16.08,12.30)(16.04,12.68)(16.39,12.14)(17.03,12.18)(17.0,12.40)(7.08,12.56)(10.89,12.54)(14.79,11.93)(13.60,11.68)(13.84,11.90)(13.07,11.64)(17.77,11.55)(17.64,11.55)(17.47,11.70)(16.42,11.12)(16.35,11.33)(16.82,11.37)(17.03,11.43)(17.05,10.90)(11.01,11.33)(11.50,11.06)(12.05,11.34)(7.22,10.93)(13.07,10.97)(13.94,10.87)(13.50,10.43)(13.67,10.53)(13.07,10.27)(14.43,10.30)(15.01,10.56)(16.28,10.52)(16.01,9.71)(15.78,10.02)(15.54,9.56)(15.09,9.25)(14.45,8.94)(13.45,9.31)(9.57,9.71)(11.57,9.77)(16.89,9.90)(17.07,9.54)(17.43,9.75)(17.43,9.93)(17.57,10.21)(18.11,9.81)(18.02,10.40)(18.38,10.33)(18.48,10.06)(18.48,9.46)(18.79,9.03)(17.61,9.06)(16.76,9.04)(17.03,8.69)(18.49,8.56)(17.50,8.38)(7.18,8.38)
(8.44,7.47)(11.27,7.23)(9.47,5.58)(10.58,4.88)(10.27,4.41)(9.69,3.16)(10.78,3.03)(10.58,2.04)(13.0,4.68)(12.76,4.06)(13.12,2.06)(13.35,1.26)(13.98,1.28)(13.93,0.21)(14.05,0.70)(7.25,0.72)(8.81,0.97)(6.94,-2.05)(12.07,-2.24)(14.09,7.55)(14.63,6.74)(15.04,6.09)(14.52,5.76)(14.55,4.99)(14.46,8.94)(15.07,9.19)(13.44,9.19)(16.25,5.80)(16.35,6.24)(17.0,5.98)(16.42,4.64)(16.52,5.20)(15.97,4.70)(17.37,5.26)(17.94,5.36)(17.78,6.32)(17.64,6.01)(18.12,5.14)(17.30,4.58)(18.01,4.53)(18.39,4.48)(18.99,4.33)(19.54,4.21)(20.03,4.39)(20.53,4.87)(20.39,5.49)(19.47,5.05)(19.77,5.14)(19.40,5.58)(19.90,5.92)(19.51,6.49)(19.24,6.01)(18.66,5.79)(18.70,6.42)(18.49,6.95)(17.67,6.95)(17.30,6.70)(16.90,6.88)(18.05,7.22)(19.24,7.30)(18.55,7.88)(19.13,7.82)(18.49,8.53)(18.79,9.0)(17.57,8.32)(17.30,7.88)(17.0,8.75)(17.61,9.04)(16.76,9.04)(17.74,3.58)(17.51,4.04)(15.58,4.11)(15.85,4.06)(15.30,3.62)(15.0,3.27)(19.40,3.08)(19.61,3.36)(19.24,2.75)(16.60,2.49)(17.32,2.24)(20.19,2.46)(20.78,2.12)(18.93,2.11)(18.29,1.89)(19.61,1.93)(17.52,1.63)(16.65,1.46)(20.01,1.44)(20.22,1.40)(20.30,1.78)(15.27,0.68)(15.72,0.78)(16.04,0.64)(17.84,0.34)(17.53,0.64)(17.89,0.07)(18.45,0.75)(18.66,0.39)(19.20,0.78)(19.09,0.87)(20.08,0.65)(20.22,0.62)(20.41,0.68)(21.58,-0.18)(15.92,-0.41)(18.39,-0.44)(17.51,-0.69)(18.56,-0.80)(17.82,-1.25)(19.74,-0.82)(19.44,-0.74)(20.38,-0.74)(16.20,-1.61)(19.20,-1.68)(20.42,-1.78)(20.22,-1.55)(20.49,-1.55)(15.74,-2.36)(20.51,-2.36)(18.79,-3.02)(18.81,-2.59)(19.67,-3.08)(17.33,-3.26)(18.45,-3.43)(20.41,-3.23)(19.47,-3.96)(18.66,-4.58)(18.96,-4.31)(19.0,-4.89)(20.08,-4.58)(19.54,-4.70)(19.78,-4.89)(18.66,-5.26)(19.29,-5.29)(16.02,-5.64)(17.15,-5.68)(20.26,-5.73)(20.62,-5.37)(19.61,-6.06)(18.90,-6.32)(20.62,-6.32)(17.30,-6.57)(13.10,-6.57)
(12.23,-6.98)(14.85,-6.97)(19.47,-7.69)(19.40,-6.45)(17.97,-6.86)(18.45,-7.04)(18.93,-7.13)(19.51,-7.13)(19.81,-7.01)(20.19,-7.23)(15.01,-9.15)(19.94,-8.88)(19.88,-8.56)(19.06,-8.65)(18.56,-8.40)(17.74,-8.34)(17.84,-8.91)(18.32,-9.19)(18.79,-9.19)(19.20,-9.31)(19.47,-9.31)(19.67,-9.62)(19.33,-9.81)(17.14,-10.15)(18.18,-10.10)(18.26,-10.51)(18.73,-10.47)(19.40,-10.99)(18.94,-10.81)(19.19,-11.24)(18.49,-11.03)(17.80,-11.21)(18.36,-11.39)(18.05,-12.30)(18.18,-11.93)(17.07,-12.54)(17.71,-12.80)(17.78,-12.61)(13.86,-10.83)(15.38,-12.25)(17.03,-13.86)(17.23,-13.55)(17.71,-13.92)(17.59,-13.57)(16.73,-15.04)(16.35,-15.35)(15.41,-15.73)(15.95,-15.85)(16.49,-15.77)(16.58,-16.33)(16.02,-16.39)(16.29,-16.08)(15.0,-17.16)(14.59,-16.66)
(-1.86,20.52)(-0.02,19.83)(2.61,20.17)(3.36,18.15)(2.86,17.43)(-4.07,18.44)(-4.49,17.80)(-0.23,15.56)(0.63,13.79)
};
% inspected, cluster 1
\addplot[insp=cred] coordinates {
(-21.78,13.23)(-22.31,12.89)(-21.01,12.47)(-17.93,12.67)(-22.07,12.31)(-22.74,12.22)(-22.74,11.68)(-22.65,11.91)(-19.56,11.51)(-14.57,11.31)(-10.71,10.70)(-8.50,10.06)(-10.94,9.29)(-18.72,10.44)(-17.18,10.33)(-15.71,10.20)(-19.32,9.74)(-18.14,9.77)(-18.14,9.08)(-22.95,10.91)(-22.54,11.06)(-21.36,10.68)(-21.93,10.79)(-22.27,10.87)(-22.95,10.29)(-22.74,10.38)(-22.20,10.06)(-22.74,9.88)(-23.01,9.69)(-22.88,9.32)(-22.61,9.50)(-22.17,9.12)(-22.77,8.44)(-22.34,8.37)(-20.85,8.51)(-22.72,8.01)(-21.19,7.70)(-20.78,7.75)(-17.01,8.01)(-17.32,7.78)(-15.96,7.78)(-22.04,7.63)(-22.68,7.51)(-21.42,7.37)(-22.61,7.14)(-22.34,6.89)(-21.70,6.33)(-22.04,6.76)(-22.34,6.11)(-20.35,6.13)(-17.32,6.46)(-17.96,6.03)(-22.36,5.45)(-22.01,5.60)(-20.58,5.14)(-20.44,5.44)(-21.12,5.20)(-21.46,5.33)(-22.05,4.76)(-19.46,4.72)(-18.52,4.18)(-21.23,4.46)(-21.66,4.27)(-20.85,4.06)(-21.43,4.02)(-18.60,3.36)(-18.65,3.76)(-21.73,3.46)(-21.84,3.73)(-20.96,3.31)(-15.85,4.47)(-15.10,3.93)(-11.98,4.39)(-10.94,4.10)(-12.45,3.52)(-10.91,3.22)(-13.30,1.90)(-20.14,3.02)(-21.52,2.38)(-21.36,2.74)(-20.64,2.65)(-20.89,2.44)(-19.93,2.41)(-19.15,2.36)(-21.05,1.96)(-20.47,1.96)(-21.01,1.30)(-20.74,1.55)(-20.01,1.37)(-18.08,1.53)(-18.76,0.96)(-17.46,0.97)(-16.54,0.72)(-20.74,0.84)(-19.76,0.84)(-19.44,0.63)(-20.33,0.41)(-18.33,0.25)(-17.42,0.07)(-19.60,0.0)(-8.25,-0.32)(-11.01,-0.59)(-10.22,-0.84)(-20.17,-0.53)(-20.03,-0.22)(-19.29,-0.40)(-18.57,-0.43)(-17.38,-0.75)(-19.29,-0.84)(-6.24,-0.27)
(-19.36,-1.22)(-18.68,-1.03)(-18.68,-1.65)(-19.45,-1.88)(-18.24,-1.84)(-19.02,-2.09)(-19.08,-2.49)(-18.54,-2.46)(-17.87,-2.34)(-17.28,-2.03)(-17.26,-2.40)(-18.38,-2.96)(-18.07,-2.77)(-18.0,-3.27)(-16.14,-1.63)(-15.90,-2.08)(-15.22,-2.65)(-17.19,-3.05)(-17.08,-3.47)(-16.10,-3.17)(-14.27,-1.99)(-14.2,-2.0)(-13.83,-1.55)(-13.77,-3.06)(-14.38,-3.42)(-11.93,-2.08)(-9.19,-2.03)(-7.12,-2.10)(-10.49,-2.50)(-9.78,-2.55)(-7.89,-2.75)(-11.39,-3.17)(-7.49,-4.08)(-11.36,-4.36)(-15.56,-3.58)(-16.37,-3.9)(-16.75,-4.04)(-17.86,-4.6)(-18.07,-4.05)(-17.62,-4.06)(-15.29,-4.08)(-14.75,-4.21)(-13.12,-4.27)(-15.32,-4.64)(-14.38,-4.77)(-17.19,-4.77)(-16.81,-5.08)(-16.10,-5.10)(-15.56,-5.02)(-15.36,-5.52)(-16.98,-5.58)(-16.65,-5.85)(-15.76,-5.84)(-14.61,-5.49)(-14.72,-5.91)(-14.23,-5.93)(-13.05,-6.35)(-13.46,-6.14)(-13.01,-5.76)(-12.42,-6.29)(-12.04,-5.86)(-11.01,-5.74)(-10.95,-5.27)(-9.61,-5.68)(-10.86,-6.51)(-10.33,-6.33)(-8.48,-6.89)(-12.15,-6.92)(-16.10,-6.57)(-16.27,-6.29)(-15.29,-6.57)(-15.22,-6.82)(-14.21,-6.70)(-15.79,-7.11)(-15.20,-7.35)(-14.78,-7.09)(-14.45,-7.66)(-15.15,-7.98)(-14.79,-8.23)(-13.37,-7.71)(-13.73,-7.80)(-12.64,-7.63)(-12.58,-8.06)(-13.03,-8.34)(-14.34,-8.88)(-14.0,-8.82)(-13.85,-8.61)(-13.39,-9.19)(-10.30,-7.96)(-8.91,-8.33)(-12.07,-8.90)(-10.85,-9.09)(-10.85,-8.88)(-13.64,-9.60)(-12.82,-9.63)(-12.44,-9.57)(-11.47,-9.60)(-9.40,-9.57)(-10.17,-9.35)(-8.26,-9.37)(-11.02,-9.90)(-9.78,-9.89)(-10.37,-9.90)(-13.05,-10.03)(-12.28,-10.25)(-10.74,-10.41)(-9.45,-10.33)(-7.09,-10.05)(-6.14,-10.08)(-6.18,-10.44)(-7.09,-10.77)(-12.44,-10.69)(-11.90,-10.75)(-12.04,-11.13)(-11.01,-11.12)(-10.24,-11.27)(-8.72,-11.0)(-9.08,-11.25)(-8.11,-11.27)(-11.35,-11.72)(-10.28,-11.72)(-8.27,-11.81)(-10.60,-12.09)(-10.93,-12.33)(-10.20,-12.43)(-9.73,-12.68)(-7.76,-12.22)(-8.03,-12.64)(-7.30,-12.74)(-7.68,-12.99)(-9.83,-13.08)(-9.19,-13.05)(-8.58,-13.18)(-9.06,-13.65)(-8.15,-13.63)(-7.23,-13.43)(-7.40,-13.77)(-5.64,-13.39)(-5.94,-13.72)(-5.67,-14.14)(-7.73,-14.36)(-7.51,-14.57)(-6.73,-14.30)(-7.03,-14.86)(-6.48,-15.24)(-5.86,-14.99)(-5.17,-14.86)(-5.26,-6.82)(-5.02,-6.57)(-5.0,-12.3)
(-1.87,-7.76)(-0.01,-7.63)(-0.45,-7.13)(2.03,-8.39)(-0.57,-8.78)(-4.46,-8.89)(-2.48,-10.0)(-2.07,-9.88)(-2.07,-9.13)(1.98,-10.21)(2.38,-9.75)(6.83,-10.86)(9.19,-11.27)(-4.62,-10.61)(-4.13,-11.19)(-0.73,-11.45)(-0.77,-12.36)(-4.67,-12.29)(9.07,-12.34)(3.60,-12.73)(-4.07,-13.34)(-3.10,-13.53)(-5.12,-14.82)(-4.02,-15.30)(-4.85,-15.80)(-5.33,-16.05)(-5.08,-16.54)(-4.78,-16.36)(-5.16,-16.26)(-4.17,-16.36)(-4.24,-15.92)(-3.77,-16.18)(-3.50,-16.79)(-3.20,-16.95)(-2.82,-16.79)(-2.48,-16.48)(-2.48,-16.21)(-2.34,-17.29)(-3.02,-17.50)(-2.34,-17.70)(-1.87,-17.79)(-2.07,-18.23)(-1.56,-16.95)(-1.56,-16.54)(-0.35,-16.16)(-0.19,-16.77)(-2.05,-14.36)(-1.45,-14.89)(-0.15,-14.69)(0.37,-14.69)(3.16,-15.25)(3.31,-14.67)(2.78,-16.44)(5.54,-16.17)(7.91,-15.78)(8.29,-14.29)(9.16,-14.11)(3.75,-17.60)(4.20,-17.33)(3.93,-18.25)(5.04,-17.54)(5.10,-17.13)(2.47,-17.99)(2.37,-17.54)(-0.51,-17.66)(-0.31,-18.04)(-1.19,-18.41)(-0.30,-18.37)(0.16,-18.47)(0.98,-18.79)(0.10,-19.28)(0.54,-19.22)(1.0,-19.12)(1.59,-19.32)(1.04,-19.53)(3.08,-20.09)(2.64,-19.97)(2.15,-19.82)(2.20,-19.22)(2.38,-19.25)(3.12,-18.95)(3.21,-19.50)(4.36,-19.78)(4.13,-20.66)(4.57,-20.47)(4.84,-20.09)(5.47,-18.97)(5.38,-18.47)(5.92,-18.66)(7.01,-19.0)(7.51,-18.41)(7.70,-18.66)(8.66,-19.07)(8.75,-18.45)(5.24,-19.72)(5.65,-19.72)(6.19,-19.85)(5.18,-20.59)(5.45,-20.32)(5.92,-20.59)(6.26,-20.28)(6.46,-20.78)(6.73,-20.72)(6.87,-20.09)(7.41,-19.66)(7.68,-19.95)(7.68,-20.47)(7.18,-20.63)(6.94,-20.90)(7.75,-20.97)(8.25,-21.07)(8.02,-20.53)(8.56,-20.59)(8.77,-20.28)(8.83,-19.91)(9.04,-20.53)(9.51,-20.53)
(11.14,-13.90)(11.73,-13.88)(11.49,-14.50)(13.70,-17.22)(14.32,-17.29)(13.85,-17.75)(13.37,-17.82)(12.97,-18.56)(13.55,-18.82)(12.22,-18.74)(10.08,-18.25)(10.46,-19.03)(11.61,-19.12)(11.2,-19.2)(12.07,-19.36)(10.76,-19.36)(10.54,-19.76)(9.46,-19.76)(11.63,-20.08)(12.5,-19.96)(13.38,-18.76)(10.33,-20.36)(9.46,-20.48)(8.80,-20.56)
(-8.09,15.40)(-14.73,20.28)(-9.85,20.84)(-12.46,19.08)(-20.3,15.23)(-2.61,6.61)(4.88,1.32)(1.44,0.24)(5.49,-3.45)(3.88,-2.81)(1.39,-3.13)(-0.74,-2.93)(-0.48,-3.57)(-5.14,0.16)(-6.23,-0.28)(-7.06,-2.12)(-1.39,-6.45)(-4.97,-6.61)(-5.14,-6.81)
};
\addlegendimage{lg,mark size=4.8pt,mark options={draw=ccyan,line width=0pt,fill=ccyan}}
\addlegendentry{Predicted}
\addlegendimage{lg,mark size=4.1pt,mark options={draw=black,line width=0.65pt,fill=ccyan}}
\addlegendentry{Inspected}
\addlegendimage{lg,mark size=5.5pt,mark options={draw=black,line width=0pt,fill=black}}
\addlegendentry{Cluster mean}
% cluster means
\addplot[forget plot,only marks,mark=*,mark size=5.2pt,mark options={draw=black,line width=0pt,fill=black}] coordinates {(16.26,7.30)(-12.99,-3.92)};
\clabel{16.96}{7.98}{1}
\clabel{-12.28}{-3.27}{2}
\end{axis}
% colour bar
\begin{axis}[
  at={(750.5pt,58.5pt)},anchor=south west,scale only axis,width=33.5pt,height=660.5pt,
  xmin=0,xmax=1,ymin=1,ymax=2,xtick=\empty,
  ytick={1,2},yticklabels={1,2},ytick pos=right,tick align=outside,major tick length=5pt,
  tick style={black,line width=1pt},axis line style={line width=1pt},axis on top,
  yticklabel style={font=\fontsize{21}{21}\selectfont,xshift=2pt},
  ylabel={Cluster},
  ylabel style={font=\fontsize{24}{24}\selectfont,at={(axis description cs:2.2,0.5)},anchor=center},
]
\addplot[fill=cred,draw=none] coordinates {(0,1)(1,1)(1,1.5)(0,1.5)} -- cycle;
\addplot[fill=cblue,draw=none] coordinates {(0,1.5)(1,1.5)(1,2)(0,2)} -- cycle;
\end{axis}
% start of the neighbouring panel, cut off by the page edge
\draw[line width=1pt] (744.5pt,-10pt) -- (744.5pt,21.5pt) -- (850pt,21.5pt);
\begin{scope}
\clip (744.5pt,0pt) rectangle (840.5pt,21pt);
\node[anchor=base west,inner sep=0pt,font=\fontsize{50}{50}\selectfont] at (749pt,-35.5pt) {D};
\end{scope}
\end{tikzpicture}
\end{document}
